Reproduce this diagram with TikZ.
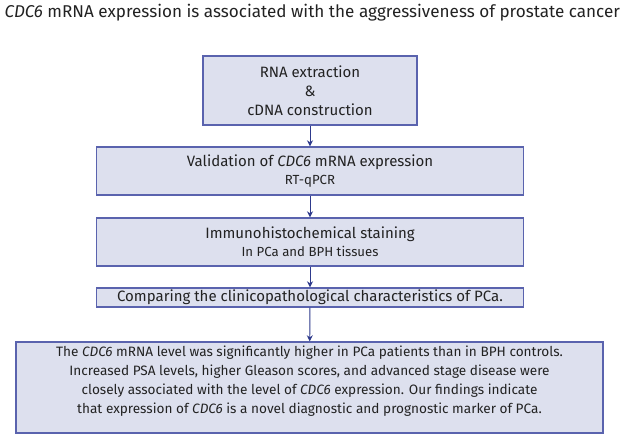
\documentclass[tikz,border=0pt]{standalone}
\usepackage{fontspec}
\setmainfont{Fira Sans}
\usetikzlibrary{arrows.meta, positioning}
\definecolor{flfill}{HTML}{DDE0EE}
\definecolor{flline}{HTML}{5A63AE}
\definecolor{flarrow}{HTML}{2E3A8C}
\definecolor{fltext}{HTML}{222222}

\begin{document}
\begin{tikzpicture}[
      x=1pt, y=-1pt,
      font=\fontsize{15}{19}\selectfont, text=fltext,
      box/.style={draw=flline, fill=flfill, line width=1.4pt, align=center,
                  inner sep=0pt, minimum width=427pt},
      ar/.style={-{Stealth[length=6pt,width=6pt]}, flarrow, line width=0.9pt},
    ]
    \useasboundingbox (0,0) rectangle (620,435);

    % ---------------- title
    \node[anchor=west, font=\fontsize{17.1}{20}\selectfont] (title) at (1,13)
      {\textit{CDC6} mRNA expression is associated with the aggressiveness of prostate cancer};

    % ---------------- steps
    \node[box, minimum width=214pt, minimum height=69pt] (rna) at (310,90.5)
      {RNA extraction\\\&\\cDNA construction};
    \node[box, minimum height=48pt, font=\fontsize{15}{18}\selectfont] (valid) at (310,171)
      {Validation of \textit{CDC6} mRNA expression\\{\fontsize{13.2}{15}\selectfont RT-qPCR}};
    \node[box, minimum height=48pt, font=\fontsize{15}{18}\selectfont] (ihc) at (310,242)
      {Immunohistochemical staining\\{\fontsize{13.2}{15}\selectfont In PCa and BPH tissues}};
    \node[box, minimum height=19pt] (comp) at (310,297.5)
      {Comparing the clinicopathological characteristics of PCa.};
    \node[box, minimum width=587pt, minimum height=91pt, font=\fontsize{13.6}{19}\selectfont]
      (result) at (309.5,387.5)
      {The \textit{CDC6} mRNA level was significantly higher in PCa patients than in BPH controls.\\
       Increased PSA levels, higher Gleason scores, and advanced stage disease were\\
       closely associated with the level of \textit{CDC6} expression. Our findings indicate\\
       that expression of \textit{CDC6} is a novel diagnostic and prognostic marker of PCa.\rule[-16pt]{0pt}{0pt}};

    % ---------------- arrows
    \draw[ar] (rna) -- (valid);
    \draw[ar] (valid) -- (ihc);
    \draw[ar] (ihc) -- (comp);
    \draw[ar] (comp) -- (result);
  \end{tikzpicture}
\end{document}
